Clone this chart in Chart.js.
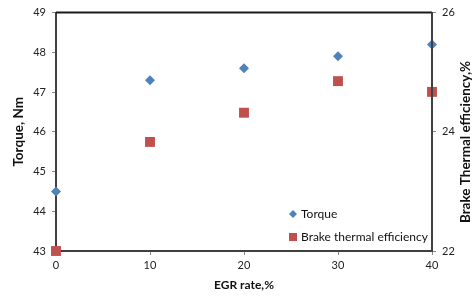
<!DOCTYPE html>
<html>
<head>
<meta charset="utf-8">
<script src="https://cdn.jsdelivr.net/npm/chart.js@4"></script>
<style>
  html, body { margin: 0; padding: 0; background: #fff; }
  #wrap { width: 474px; height: 296px; position: relative; }
</style>
</head>
<body>
<div id="wrap"><canvas id="egrChart" width="474" height="296"></canvas></div>
<script>
let egrRate = [0, 10, 20, 30, 40];//x values
let torque = [44.5, 47.3, 47.6, 47.9, 48.2];// left axis, Nm
let bte = [22.0, 23.83, 24.32, 24.85, 24.67];// right axis, %
let rightTitle = 'Brake Thermal efficiency,%';

let blue = '#4F81BD';
let red = '#C0504D';
let fontName = 'Lato, "Liberation Sans", sans-serif';

// frame round the plot area, legend inside the plot, right axis title
const framePlugin = {
    id: 'frame',
    afterDraw(chart) {
        const ctx = chart.ctx;
        const a = chart.chartArea;
        ctx.save();
        ctx.strokeStyle = '#1a1a1a';
        ctx.lineWidth = 2;
        ctx.beginPath();
        ctx.moveTo(a.left, a.top);
        ctx.lineTo(a.right, a.top);
        ctx.stroke();
        ctx.strokeStyle = '#404040';
        ctx.beginPath();
        ctx.moveTo(a.right, a.top);
        ctx.lineTo(a.right, a.bottom);
        ctx.stroke();

        // legend
        const items = chart.data.datasets;
        let lx = 293, ly = 214;
        ctx.font = '12px ' + fontName;
        ctx.textBaseline = 'middle';
        items.forEach((ds, i) => {
            const y = ly + i * 23;
            ctx.fillStyle = ds.backgroundColor;
            ctx.beginPath();
            if (ds.pointStyle === 'rectRot') {
                ctx.moveTo(lx - 4, y);
                ctx.lineTo(lx, y - 4);
                ctx.lineTo(lx + 4, y);
                ctx.lineTo(lx, y + 4);
                ctx.closePath();
            } else {
                ctx.rect(lx - 4, y - 4, 8, 8);
            }
            ctx.fill();
            ctx.fillStyle = '#111';
            ctx.fillText(ds.label, lx + 8, y);
        });

        // right axis title
        ctx.translate(466, 142);
        ctx.rotate(-Math.PI / 2);
        ctx.font = 'bold 13.5px ' + fontName;
        ctx.textAlign = 'center';
        ctx.fillStyle = '#111';
        ctx.fillText(rightTitle, 0, 0);
        ctx.restore();
    }
};

const ctx = document.getElementById('egrChart').getContext('2d');
new Chart(ctx, {
    type: 'scatter',
    data: {
        datasets: [{
            label: 'Torque',
            data: egrRate.map((x, i) => ({ x: x, y: torque[i] })),
            yAxisID: 'y',
            pointStyle: 'rectRot',
            pointRadius: 5,
            pointHoverRadius: 5,
            backgroundColor: blue,
            borderColor: blue,
            borderWidth: 0
        }, {
            label: 'Brake thermal efficiency',
            data: egrRate.map((x, i) => ({ x: x, y: bte[i] })),
            yAxisID: 'y2',
            pointStyle: 'rect',
            pointRadius: 7,
            pointHoverRadius: 7,
            backgroundColor: red,
            borderColor: red,
            borderWidth: 0
        }]
    },
    options: {
        responsive: false,
        animation: false,
        clip: false,
        layout: { padding: { top: 12, left: 11, right: 0, bottom: 4 } },
        plugins: {
            legend: { display: false },
            tooltip: { enabled: false }
        },
        scales: {
            x: {
                type: 'linear',
                min: 0, max: 40,
                ticks: { stepSize: 10, color: '#222', font: { family: fontName, size: 11 }, padding: 4 },
                grid: { display: true, drawOnChartArea: false, drawTicks: true, tickLength: 4, color: '#888' },
                border: { color: '#404040', width: 2 },
                title: { display: true, text: 'EGR rate,%', color: '#111', font: { family: fontName, size: 12, weight: 'bold' }, padding: { top: 4, bottom: 0 } },
                afterFit: s => { s.height = 41; }
            },
            y: {
                position: 'left',
                min: 43, max: 49,
                ticks: { stepSize: 1, color: '#222', font: { family: fontName, size: 11 }, padding: 6 },
                grid: { display: true, drawOnChartArea: false, drawTicks: true, tickLength: 4, color: '#888' },
                border: { color: '#404040', width: 2 },
                title: { display: true, text: 'Torque, Nm', color: '#111', font: { family: fontName, size: 13.5, weight: 'bold' }, padding: 0 },
                afterFit: s => { s.width = 45; }
            },
            y2: {
                position: 'right',
                min: 22, max: 26,
                ticks: { stepSize: 2, color: '#222', font: { family: fontName, size: 11 }, padding: 6 },
                grid: { display: true, drawOnChartArea: false, drawTicks: true, tickLength: 4, color: '#888' },
                border: { color: '#404040', width: 2 },
                title: { display: false },
                afterFit: s => { s.width = 42; }
            }
        }
    },
    plugins: [framePlugin]
});
</script>
</body>
</html>
